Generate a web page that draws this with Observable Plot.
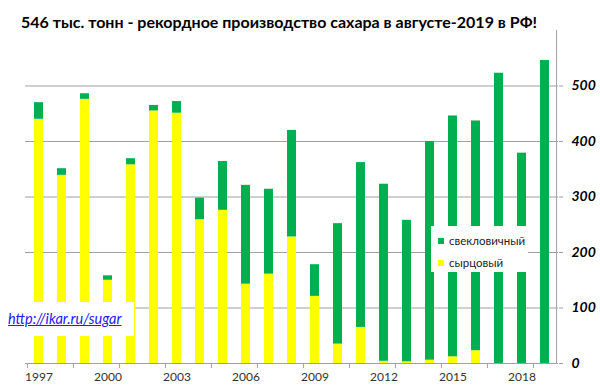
<!DOCTYPE html>
<html><head><meta charset="utf-8">
<script src="https://cdn.jsdelivr.net/npm/d3@7"></script>
<script src="https://cdn.jsdelivr.net/npm/@observablehq/plot@0.6"></script>
<style>
body{margin:0;background:#fff;}
#wrap{position:relative;width:600px;height:392px;overflow:hidden;font-family:Lato,"Open Sans",sans-serif;background:#fff;}
#title{position:absolute;left:21px;top:12px;font-weight:bold;font-size:16px;color:#000;white-space:nowrap;line-height:20px;z-index:5;}
#chart{position:absolute;left:0;top:26px;}
#legend{position:absolute;left:431px;top:226px;width:97px;height:46px;background:#fff;font-size:11.5px;color:#222;}
#legend .row{position:absolute;left:7px;white-space:nowrap;line-height:14px;}
#legend .sw{display:inline-block;width:6px;height:6px;margin-right:5px;vertical-align:1px;}
#url{position:absolute;left:0;top:302px;width:134px;height:34px;background:#fff;}
#url span{position:absolute;left:8px;top:8px;font-style:italic;font-size:14.5px;color:#2020ff;text-decoration:underline;white-space:nowrap;}
</style></head><body>
<div id="wrap">
<div id="title">546 тыс. тонн - рекордное производство сахара в августе-2019 в РФ!</div>
<div id="chart"></div>
<div id="legend"></div>
<div id="url"><span>http://ikar.ru/sugar</span></div>
</div>
<script>
const years = [1997,1998,1999,2000,2001,2002,2003,2004,2005,2006,2007,2008,2009,2010,2011,2012,2013,2014,2015,2016,2017,2018,2019];
const raw  = [440,339,476,150,358,455,451,259,276,143,161,228,121,35,65,4,3,6,12,23,0,0,0];
const beet = [30,12,10,8,11,10,21,39,88,178,153,192,57,217,297,319,255,394,434,414,523,379,546];
const seriesNames = ["сырцовый","свекловичный"];
const seriesColors = ["#FFFF00","#00B050"];
const legendOrder = ["свекловичный","сырцовый"];
const yTicks = [0,100,200,300,400,500];
const gridTicks = [100,200,300,400,500];
const labelYears = [1997,2000,2003,2006,2009,2012,2015,2018];
const tickYears = years.filter((d,i)=>i%2===0);

const table = [];
years.forEach((y,i)=>{
  table.push({year:y, series:seriesNames[0], value:raw[i]});
  table.push({year:y, series:seriesNames[1], value:beet[i]});
});

const W = 600, H = 366, mL = 25, mR = 42, mT = 4, mB = 29;
const step = (W - mL - mR) / years.length;

const chart = Plot.plot({
  width: W, height: H,
  marginLeft: mL, marginRight: mR, marginTop: mT, marginBottom: mB,
  style: {fontFamily: "Lato, 'Open Sans', sans-serif", background: "transparent"},
  x: {type: "band", domain: years, paddingInner: 0.6, paddingOuter: 0.3, axis: null, label: null},
  y: {domain: [0, 600], axis: null, label: null},
  color: {domain: seriesNames, range: seriesColors},
  marks: [
    Plot.gridY(gridTicks, {stroke: "#a0a0a0", strokeOpacity: 1, strokeWidth: 1}),
    Plot.barY(table, {x: "year", y: "value", fill: "series", order: seriesNames}),
    Plot.ruleY([0], {stroke: "#a0a0a0"}),
    Plot.ruleX([years[years.length-1]], {dx: step/2, y1: 0, y2: 600, stroke: "#a0a0a0"}),
    Plot.axisX(tickYears, {tickSize: 5, tickFormat: () => "", dx: -step/2, stroke: "#a0a0a0", label: null}),
    Plot.axisX(labelYears, {tickSize: 0, tickPadding: 9, fontSize: 12, fill: "#333", tickFormat: d => String(d), label: null}),
    Plot.axisY(yTicks, {anchor: "right", tickSize: 4, tickPadding: 9, stroke: "#a0a0a0", fontSize: 14, fontWeight: "bold", fontStyle: "italic", fill: "#000", textAnchor: "start", label: null})
  ]
});
document.getElementById("chart").appendChild(chart);

const leg = document.getElementById("legend");
legendOrder.forEach((name, i) => {
  const row = document.createElement("div");
  row.className = "row";
  row.style.top = (8 + i*22) + "px";
  const sw = document.createElement("span");
  sw.className = "sw";
  sw.style.background = seriesColors[seriesNames.indexOf(name)];
  row.appendChild(sw);
  row.appendChild(document.createTextNode(name));
  leg.appendChild(row);
});
</script>
</body></html>
